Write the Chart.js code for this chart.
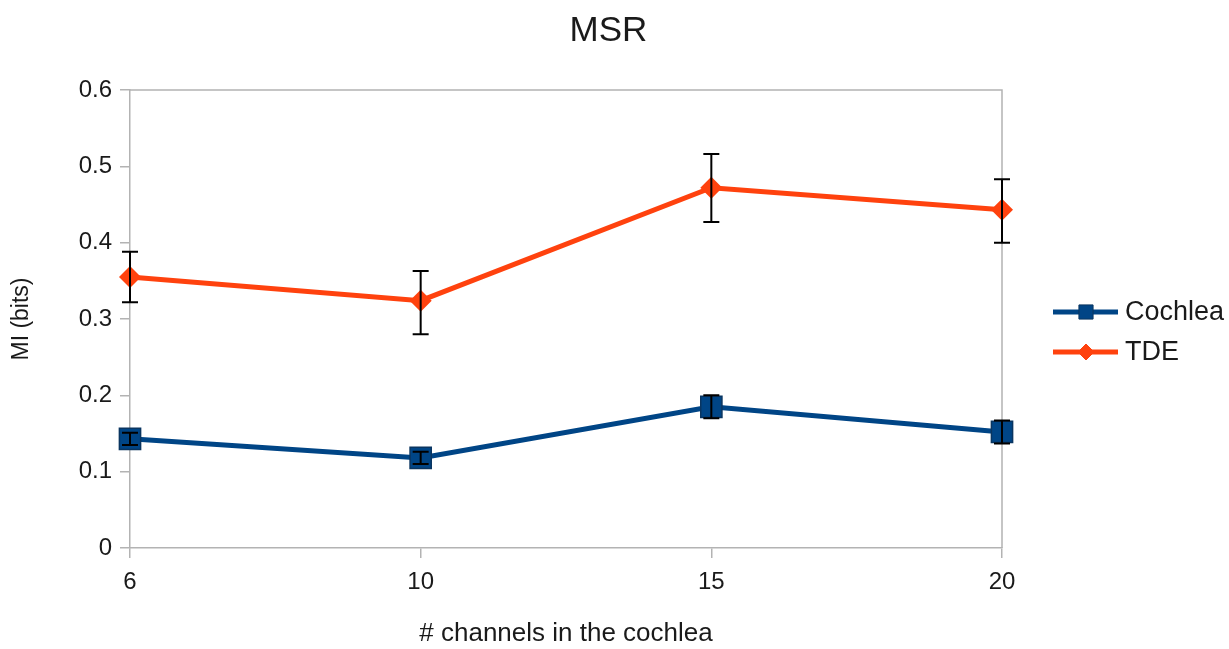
<!DOCTYPE html>
<html>
<head>
<meta charset="utf-8">
<script src="https://cdn.jsdelivr.net/npm/chart.js@4.4.1/dist/chart.umd.min.js"></script>
<style>
html,body{margin:0;padding:0;background:#fff;}
#wrap{width:1229px;height:649px;}
</style>
</head>
<body>
<div id="wrap"><canvas id="c" width="1229" height="649"></canvas></div>
<script>
const categories = ['6', '10', '15', '20'];
const cochleaValues = [0.143, 0.118, 0.185, 0.152];
const cochleaLow = [0.135, 0.110, 0.170, 0.137];
const cochleaHigh = [0.151, 0.126, 0.200, 0.167];
const tdeValues = [0.355, 0.324, 0.472, 0.443];
const tdeLow = [0.322, 0.280, 0.427, 0.400];
const tdeHigh = [0.388, 0.363, 0.516, 0.483];
const yTicks = [0, 0.1, 0.2, 0.3, 0.4, 0.5, 0.6];

const COCHLEA = '#004586';
const TDE = '#ff420e';
const FONT = "'Liberation Sans', Arial, sans-serif";

const errorBars = {
  id: 'errorBars',
  afterDatasetsDraw(chart) {
    const ctx = chart.ctx;
    const xs = chart.scales.x, ys = chart.scales.y;
    const sets = [[cochleaLow, cochleaHigh], [tdeLow, tdeHigh]];
    ctx.save();
    ctx.strokeStyle = '#000';
    ctx.lineWidth = 2;
    sets.forEach(([lo, hi]) => {
      categories.forEach((c, i) => {
        const x = xs.getPixelForValue(i);
        const y1 = ys.getPixelForValue(lo[i]);
        const y2 = ys.getPixelForValue(hi[i]);
        ctx.beginPath();
        ctx.moveTo(x, y1); ctx.lineTo(x, y2);
        ctx.moveTo(x - 8, y1); ctx.lineTo(x + 8, y1);
        ctx.moveTo(x - 8, y2); ctx.lineTo(x + 8, y2);
        ctx.stroke();
      });
    });
    ctx.restore();
  }
};

const frame = {
  id: 'frame',
  beforeDatasetsDraw(chart) {
    const a = chart.chartArea, ctx = chart.ctx;
    ctx.save();
    ctx.strokeStyle = '#b3b3b3';
    ctx.lineWidth = 1.5;
    ctx.beginPath();
    ctx.moveTo(a.left, a.top); ctx.lineTo(a.right, a.top); ctx.lineTo(a.right, a.bottom);
    ctx.stroke();
    ctx.restore();
  }
};

const customLegend = {
  id: 'customLegend',
  afterDraw(chart) {
    const ctx = chart.ctx;
    const items = [
      {label: 'Cochlea', color: COCHLEA, border: '#0a3560', style: 'rect', r: 10, y: 312},
      {label: 'TDE', color: TDE, border: TDE, style: 'rectRot', r: 8, y: 352}
    ];
    ctx.save();
    items.forEach(it => {
      ctx.strokeStyle = it.color;
      ctx.lineWidth = 5;
      ctx.beginPath();
      ctx.moveTo(1053, it.y); ctx.lineTo(1118, it.y);
      ctx.stroke();
      ctx.fillStyle = it.color;
      ctx.strokeStyle = it.border;
      ctx.lineWidth = 1;
      Chart.helpers.drawPoint(ctx, {pointStyle: it.style, radius: it.r, rotation: 0, borderWidth: 1}, 1086, it.y);
      ctx.fillStyle = '#1a1a1a';
      ctx.font = '27px ' + FONT;
      ctx.textBaseline = 'middle';
      ctx.textAlign = 'left';
      ctx.fillText(it.label, 1125, it.y + 1);
    });
    ctx.restore();
  }
};

new Chart(document.getElementById('c'), {
  type: 'line',
  data: {
    labels: categories,
    datasets: [
      {
        label: 'Cochlea', data: cochleaValues,
        borderColor: COCHLEA, backgroundColor: COCHLEA, borderWidth: 5,
        pointStyle: 'rect', pointRadius: 15, pointBorderColor: '#0a3560', pointBorderWidth: 1.5,
        tension: 0
      },
      {
        label: 'TDE', data: tdeValues,
        borderColor: TDE, backgroundColor: TDE, borderWidth: 5,
        pointStyle: 'rectRot', pointRadius: 11, pointBorderWidth: 0,
        tension: 0
      }
    ]
  },
  options: {
    responsive: false,
    animation: false,
    layout: {padding: {left: 8, right: 20, top: 0, bottom: 0}},
    plugins: {
      legend: {display: false},
      tooltip: {enabled: false},
      title: {
        display: true, text: 'MSR', color: '#1a1a1a',
        font: {family: FONT, size: 35, weight: 'normal'},
        padding: {top: 10, bottom: 38}
      }
    },
    scales: {
      x: {
        type: 'category', offset: false,
        grid: {display: true, drawOnChartArea: false, drawTicks: true, tickLength: 10, color: '#b3b3b3', lineWidth: 1.5},
        border: {display: true, color: '#b3b3b3', width: 1.5},
        ticks: {color: '#1a1a1a', font: {family: FONT, size: 24}, padding: 10, maxRotation: 0},
        title: {display: true, text: '# channels in the cochlea', color: '#1a1a1a', font: {family: FONT, size: 26}, padding: {top: 22, bottom: 0}},
        afterFit(s) { s.height = 101; }
      },
      y: {
        min: 0, max: 0.6,
        afterBuildTicks(s) { s.ticks = yTicks.map(v => ({value: v})); },
        grid: {display: true, drawOnChartArea: false, drawTicks: true, tickLength: 10, color: '#b3b3b3', lineWidth: 1.5},
        border: {display: true, color: '#b3b3b3', width: 1.5},
        ticks: {color: '#1a1a1a', font: {family: FONT, size: 24}, padding: 8, callback: v => String(v)},
        title: {display: true, text: 'MI (bits)', color: '#1a1a1a', font: {family: FONT, size: 23}, padding: {top: 0, bottom: 20}},
        afterFit(s) { s.width = 122; }
      },
      spacer: {
        type: 'linear', position: 'right', display: true,
        grid: {display: false}, border: {display: false},
        ticks: {display: false}, title: {display: false},
        afterFit(s) { s.width = 207; }
      }
    }
  },
  plugins: [frame, errorBars, customLegend]
});
</script>
</body>
</html>
